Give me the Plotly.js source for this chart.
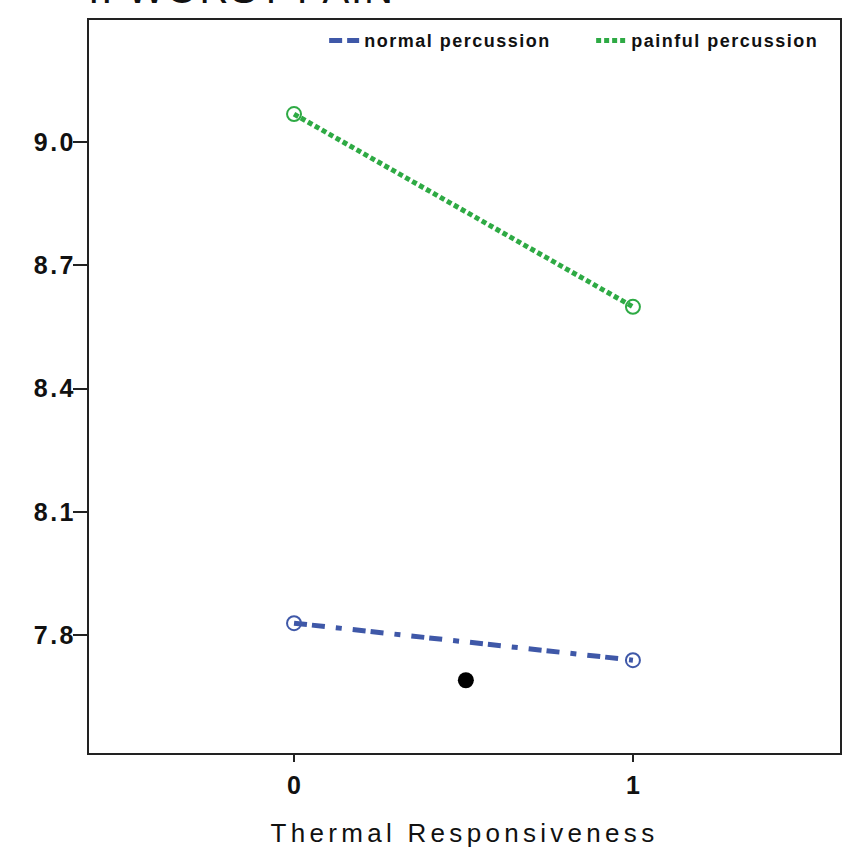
<!DOCTYPE html>
<html>
<head>
<meta charset="utf-8">
<script src="https://cdn.plot.ly/plotly-3.0.1.min.js"></script>
<style>
html,body{margin:0;padding:0;background:#fff;}
#chart{width:859px;height:849px;}
#chart .xtitle{letter-spacing:4.3px;}
#chart .legendtext{letter-spacing:1.5px;}
#chart .ytick text{letter-spacing:2.5px;}
#chart .annotation-text{letter-spacing:1.8px;}
</style>
</head>
<body>
<div id="chart"></div>
<script>
const xCategories = [0, 1];
const normalPercussion = [7.829, 7.739];
const painfulPercussion = [9.068, 8.599];
const grandMeanX = [0.507];
const grandMeanY = [7.69];
const yTickVals = [7.8, 8.1, 8.4, 8.7, 9.0];
const yTickText = ['7.8', '8.1', '8.4', '8.7', '9.0'];
const seriesNames = ['normal percussion', 'painful percussion'];

const blue = '#3f58a8', green = '#2eaa44';
const traces = [
  {
    x: xCategories, y: normalPercussion, name: seriesNames[0],
    type: 'scatter', mode: 'lines',
    line: {color: blue, width: 5, dash: '13px,5px,13px,11px,6px,11px'}
  },
  {
    x: xCategories, y: painfulPercussion, name: seriesNames[1],
    type: 'scatter', mode: 'lines',
    line: {color: green, width: 5, dash: '5px,3px'}
  },
  {
    x: xCategories, y: normalPercussion, name: seriesNames[0], showlegend: false,
    type: 'scatter', mode: 'markers',
    marker: {symbol: 'circle-open', size: 14, color: blue, line: {width: 2}}
  },
  {
    x: xCategories, y: painfulPercussion, name: seriesNames[1], showlegend: false,
    type: 'scatter', mode: 'markers',
    marker: {symbol: 'circle-open', size: 14, color: green, line: {width: 2}}
  },
  {
    x: grandMeanX, y: grandMeanY, name: 'mean', showlegend: false,
    type: 'scatter', mode: 'markers',
    marker: {symbol: 'circle', size: 16, color: '#000'}
  }
];

const layout = {
  width: 859, height: 849,
  margin: {l: 89, r: 19, t: 20, b: 96, autoexpand: false},
  paper_bgcolor: '#fff', plot_bgcolor: '#fff',
  showlegend: true,
  legend: {
    orientation: 'h', xref: 'container', x: 0.999, xanchor: 'right',
    y: 0.997, yanchor: 'top',
    font: {family: 'Liberation Sans', size: 18, color: '#111', weight: 'bold'},
    bgcolor: 'rgba(0,0,0,0)', itemwidth: 30, tracegroupgap: 0,
    entrywidth: 222, entrywidthmode: 'pixels'
  },
  xaxis: {
    range: [-0.605, 1.611], tickvals: [0, 1], ticktext: ['0', '1'],
    showgrid: false, zeroline: false, showline: true, mirror: true,
    linecolor: '#222', linewidth: 2,
    ticks: 'outside', ticklen: 7, tickwidth: 2, tickcolor: '#222',
    ticklabelstandoff: 2,
    tickfont: {family: 'Liberation Sans', size: 25, color: '#111', weight: 'bold'},
    title: {text: 'Thermal Responsiveness', standoff: 26,
      font: {family: 'Liberation Sans', size: 26, color: '#111'}}
  },
  yaxis: {
    range: [7.513, 9.297], tickvals: yTickVals, ticktext: yTickText,
    showgrid: false, zeroline: false, showline: true, mirror: true,
    linecolor: '#222', linewidth: 2,
    ticks: 'outside', ticklen: 14, tickwidth: 2, tickcolor: '#222',
    ticklabelstandoff: -8,
    tickfont: {family: 'Liberation Sans', size: 25, color: '#111', weight: 'bold'}
  },
  annotations: [{
    text: 'I. WORST PAIN', xref: 'paper', yref: 'paper',
    x: 0.0126, xanchor: 'left', y: 1.0423, yanchor: 'middle', showarrow: false,
    font: {family: 'Liberation Sans', size: 40, color: '#111'}
  }]
};

Plotly.newPlot('chart', traces, layout, {displayModeBar: false});
</script>
</body>
</html>
